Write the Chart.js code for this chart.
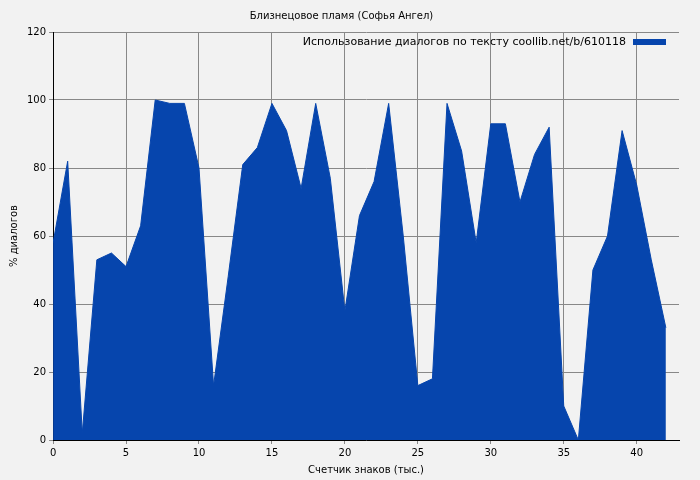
<!DOCTYPE html>
<html><head><meta charset="utf-8">
<script src="https://cdn.jsdelivr.net/npm/chart.js@4"></script>
<style>html,body{margin:0;background:#f2f2f2}#w{width:700px;height:480px}</style>
</head><body><div id="w"><canvas id="c"></canvas></div>
<script>
const xValues = [0,1,2,3,4,5,6,7,8,9,10,11,12,13,14,15,16,17,18,19,20,21,22,23,24,25,26,27,28,29,30,31,32,33,34,35,36,37,38,39,40,41,42];
const dialogPct = [58,82,2,53,55,51,63,100,99,99,80,16,48,81,86,99,91,74,99,77,38,66,76,99,60,16,18,99,85,58,93,93,70,84,92,10,0,50,60,91,75,53,33];
const seriesLabel = 'Использование диалогов по тексту coollib.net/b/610118';
const titleText = 'Близнецовое пламя (Софья Ангел)';
const xTitle = 'Счетчик знаков (тыс.)';
const yTitle = '% диалогов';
const FONT = 'DejaVu Sans';
const legendPlugin = {
  id:'lg',
  afterDraw(ch){
    const a=ch.chartArea, c=ch.ctx;
    c.save();
    c.font='11px '+FONT; c.fillStyle='#000'; c.textBaseline='middle'; c.textAlign='right';
    c.fillText(seriesLabel, a.right-53, a.top+10);
    c.fillStyle='#0645ad'; c.fillRect(a.right-46, a.top+7, 33, 6);
    c.restore();
  }
};
const bgPlugin={id:'bg',beforeDraw(ch){const c=ch.ctx;c.save();c.fillStyle='#f2f2f2';c.fillRect(0,0,ch.width,ch.height);c.restore();}};
new Chart(document.getElementById('c'),{
  type:'line',
  data:{datasets:[{label:seriesLabel,data:xValues.map((x,i)=>({x:x,y:dialogPct[i]})),
    fill:'origin',backgroundColor:'#0645ad',borderColor:'#0645ad',borderWidth:1,pointRadius:0,tension:0}]},
  options:{responsive:true,maintainAspectRatio:false,animation:false,
    layout:{padding:{top:0,right:21,left:4,bottom:0}},
    plugins:{legend:{display:false},tooltip:{enabled:false},
      title:{display:true,text:titleText,color:'#000',font:{family:FONT,size:10,weight:'normal'},padding:{top:10,bottom:10}}},
    scales:{
      x:{type:'linear',min:0,max:42.9,afterBuildTicks(s){s.ticks=[0,5,10,15,20,25,30,35,40].map(v=>({value:v}));},
        ticks:{color:'#000',font:{family:FONT,size:10},maxRotation:0},
        grid:{color:'#888',borderDash:[2,2],drawTicks:true,tickLength:4},border:{color:'#000'},
        title:{display:true,text:xTitle,color:'#000',font:{family:FONT,size:10},padding:{top:2}}},
      y:{min:0,max:120,ticks:{stepSize:20,color:'#000',font:{family:FONT,size:10}},
        grid:{color:'#888',borderDash:[2,2],tickLength:4},border:{color:'#000'},
        title:{display:true,text:yTitle,color:'#000',font:{family:FONT,size:10}}}
    }},
  plugins:[bgPlugin,legendPlugin]
});
</script></body></html>
